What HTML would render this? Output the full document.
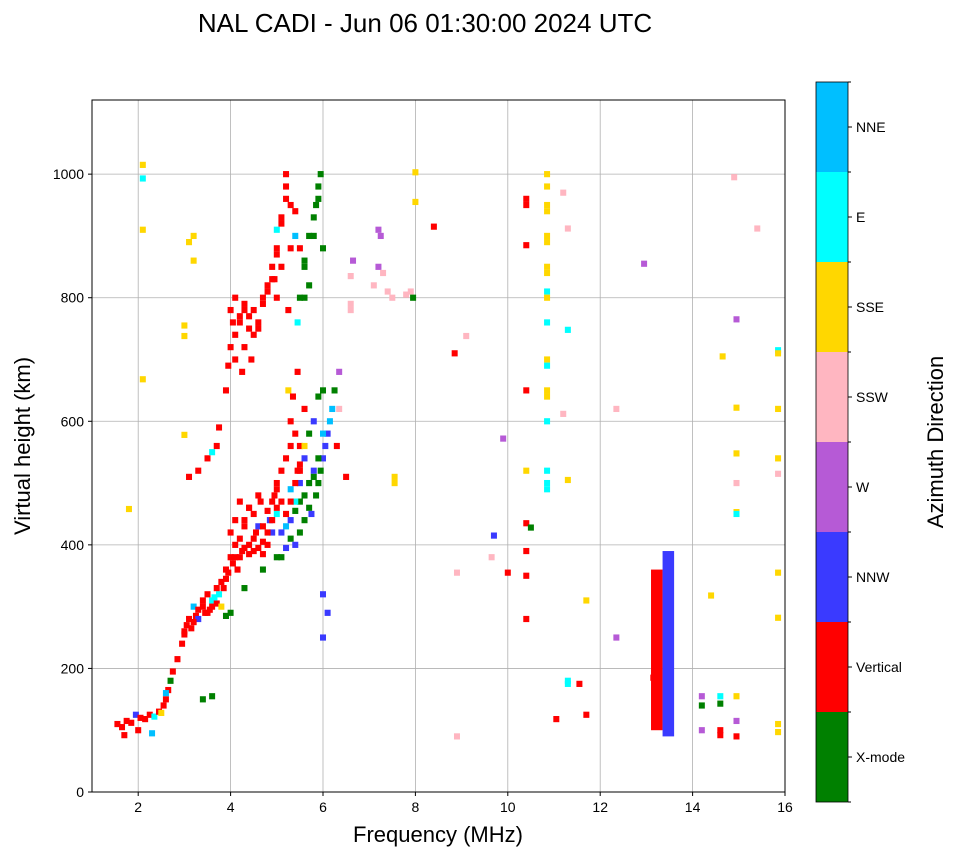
<!DOCTYPE html>
<html><head><meta charset="utf-8"><style>
body{margin:0;background:#fff;width:958px;height:857px;overflow:hidden;font-family:"Liberation Sans",sans-serif}
svg text{font-family:"Liberation Sans",sans-serif}
</style></head><body>
<svg id="chart" width="958" height="857" xmlns="http://www.w3.org/2000/svg">
<text x="425" y="32" font-size="26" text-anchor="middle">NAL CADI - Jun 06 01:30:00 2024 UTC</text>
<g id="grid"></g>
<g id="marks"></g>
<rect x="92" y="100" width="693" height="692" fill="none" stroke="#000" stroke-width="1"/>
<g id="axes"></g>
<text x="438" y="842" font-size="22" text-anchor="middle">Frequency (MHz)</text>
<text transform="translate(30,446) rotate(-90)" font-size="22" text-anchor="middle">Virtual height (km)</text>
<g id="cbar"></g>
<text transform="translate(943,442) rotate(-90)" font-size="22" text-anchor="middle">Azimuth Direction</text>
</svg>
<script>
const xTicks=[2,4,6,8,10,12,14,16];
const yTicks=[0,200,400,600,800,1000];
const dirNames=["X-mode","Vertical","NNW","W","SSW","SSE","E","NNE"];
const dirColors=["#008000","#ff0000","#3a3aff","#b65ad6","#ffb6c1","#ffd700","#00ffff","#00bfff"];
const freqs=[
1.55,1.65,1.75,1.85,1.95,2.05,2.15,2.25,2.35,2.45,2.55,2.6,2.65,2.7,2.75,2.3,2.0,1.7,2.5,2.6,
2.85,2.95,3.0,3.05,3.15,3.25,3.3,3.4,3.45,3.55,3.6,3.7,3.75,3.85,3.9,3.95,4.05,4.1,4.15,4.25,3.2,3.5,3.65,3.8,3.9,4.0,3.4,3.6,
4.2,4.3,4.4,4.5,4.55,4.65,4.7,4.8,4.85,4.95,5.0,5.1,4.4,4.6,4.9,5.0,4.3,4.7,
5.1,5.2,5.3,5.4,5.5,5.6,5.7,5.75,5.85,5.9,5.95,6.0,6.05,6.1,6.15,6.2,6.25,6.35,5.5,5.6,5.8,6.0,6.3,6.35,5.45,5.3,5.25,
5.0,5.1,5.2,5.3,5.4,5.5,5.35,5.45,
3.9,3.95,4.0,4.05,4.1,4.2,4.3,4.4,4.5,4.6,4.7,4.8,4.9,5.0,4.95,5.0,4.1,4.3,4.45,4.25,3.7,3.75,3.3,3.1,3.1,3.5,3.6,
5.2,5.3,5.4,5.5,5.6,5.7,5.8,5.85,5.9,5.95,5.25,5.45,5.6,5.0,5.1,5.2,
6.6,6.6,6.65,7.1,7.2,7.25,7.3,7.4,7.5,7.8,7.9,7.95,7.2,6.6,
10.85,10.85,10.85,10.85,10.85,10.85,10.85,10.85,10.85,10.85,10.85,10.85,10.85,10.85,10.85,10.85,10.85,10.85,10.85,
10.4,10.4,10.4,10.4,10.4,10.4,10.5,10.4,10.4,10.4,10.0,9.7,9.65,9.9,8.85,9.1,8.4,7.55,7.55,8.9,8.9,11.2,11.3,11.3,11.3,11.3,11.55,11.7,11.7,11.05,11.2,11.3,12.35,12.35,12.95,14.4,14.2,14.2,14.2,14.6,14.6,14.6,14.6,14.9,14.95,14.95,14.95,14.95,14.95,14.95,14.95,14.95,14.95,14.65,15.4,15.85,15.85,15.85,15.85,15.85,15.85,15.85,15.85,15.85,2.1,2.1,2.1,2.1,1.8,3.0,3.2,3.2,3.0,3.0,8.0,8.0,6.1,6.0,6.0,6.5,13.15,
3.0,3.1,3.2,3.3,3.4,3.5,3.6,3.7,3.8,3.9,4.0,4.1,4.2,4.3,4.4,4.5,4.6,4.7,4.8,4.9,5.0,
4.0,4.1,4.2,4.3,4.4,4.5,4.6,4.7,4.8,4.9,5.0,
5.1,5.2,5.3,5.4,5.5,5.6,5.7,5.8,5.9,
5.3,5.4,5.5,5.6,5.7,5.8,5.9,6.0,
5.2,5.3,5.4,5.5,5.6,
4.0,4.1,4.2,4.3,4.4,4.5,4.6,4.7,4.8,4.9,5.0,
5.1,5.1,5.2,5.3,5.4,5.5,5.6,5.7,5.8,5.9,6.0];
const heights=[
110,105,115,112,125,120,118,125,122,130,140,150,165,180,195,95,100,92,128,160,
215,240,255,270,265,285,280,300,290,295,310,305,320,330,345,355,370,380,360,390,300,320,315,300,285,290,150,155,
410,440,400,390,420,470,385,400,440,480,450,470,460,430,420,380,330,360,
380,395,410,400,420,440,460,450,480,500,520,540,560,580,600,620,650,680,560,620,520,580,560,620,520,600,650,
500,520,540,560,580,520,640,680,
650,690,720,760,700,770,790,750,740,760,790,820,850,870,830,800,800,780,700,680,560,590,520,510,890,540,550,
1000,950,900,880,850,820,900,950,980,1000,780,760,800,910,930,980,
790,780,860,820,850,900,840,810,800,805,810,800,910,835,
1000,980,950,940,900,890,850,840,810,800,760,700,690,650,640,600,520,500,490,
960,950,885,650,520,435,428,390,350,280,355,415,380,572,710,738,915,510,500,355,90,612,748,505,180,175,175,310,125,118,970,912,620,250,855,318,155,140,100,155,143,100,92,995,765,622,548,500,453,450,155,115,90,705,912,715,710,620,540,515,355,282,110,97,1015,993,910,668,458,578,900,860,755,738,1003,955,290,320,250,510,185,
260,280,275,295,310,290,300,330,340,360,380,400,380,395,385,410,395,405,420,440,460,
420,440,470,430,460,450,480,430,455,470,490,
420,430,440,455,470,480,500,510,540,
490,470,500,540,580,600,640,650,
450,470,500,530,560,
780,740,760,720,770,780,750,800,810,830,880,
850,920,960,880,940,800,860,900,930,960,880];
const dirs=[
1,1,1,1,2,1,1,1,6,1,1,1,1,0,1,7,1,1,5,7,
1,1,1,1,1,1,2,1,1,1,6,1,6,1,1,1,1,1,1,1,7,1,6,5,0,0,0,0,
1,1,1,1,1,1,1,1,2,1,6,1,1,2,2,0,0,0,
0,2,0,2,0,0,0,2,0,0,0,2,2,2,7,7,0,3,1,1,2,7,1,4,1,1,5,
1,1,1,1,1,1,1,1,
1,1,1,1,1,1,1,1,1,1,1,1,1,1,1,1,1,1,1,1,1,1,1,1,5,1,6,
1,1,7,1,0,0,0,0,0,0,1,6,0,6,1,1,
4,4,3,4,3,3,4,4,4,4,4,0,3,4,
5,5,5,5,5,5,5,5,6,5,6,5,6,5,5,6,6,6,6,
1,1,1,1,5,1,0,1,1,1,1,2,4,3,1,4,1,5,5,4,4,4,6,5,6,6,1,5,1,1,4,4,4,3,3,5,3,0,3,6,0,1,1,4,3,5,5,4,5,6,5,3,1,5,4,6,5,5,5,4,5,5,5,5,5,6,5,5,5,5,5,5,5,5,5,5,2,2,2,1,1,
1,1,1,1,1,1,1,1,1,1,1,1,1,1,1,1,1,1,1,1,1,
1,1,1,1,1,1,1,1,1,1,1,
2,7,2,0,0,0,0,0,0,
7,6,2,2,0,2,0,0,
1,1,1,1,5,
1,1,1,1,1,1,1,1,1,1,1,
1,1,1,1,1,0,0,0,0,0,0];
const spanF0=[13.1,13.35];
const spanF1=[13.35,13.6];
const spanH0=[100,90];
const spanH1=[360,390];
const spanDir=[1,2];

const NS="http://www.w3.org/2000/svg";
const X0=92,X1=785,Y0=792,Y1=100,FMIN=1,FMAX=16,HMIN=0,HMAX=1120;
function xs(f){return X0+(f-FMIN)/(FMAX-FMIN)*(X1-X0);}
function ys(h){return Y0-(h-HMIN)/(HMAX-HMIN)*(Y0-Y1);}
function mk(tag,attrs,parent){const e=document.createElementNS(NS,tag);for(const k in attrs)e.setAttribute(k,attrs[k]);parent.appendChild(e);return e;}
const grid=document.getElementById('grid'),axes=document.getElementById('axes'),marks=document.getElementById('marks'),cbar=document.getElementById('cbar');
xTicks.forEach(t=>{const x=xs(t);
 const g=mk('line',{x1:x,x2:x,y1:Y1,y2:Y0,stroke:'#b0b0b0','stroke-width':0.8},grid);
 
 
 mk('line',{x1:x,x2:x,y1:Y0,y2:Y0+4,stroke:'#000'},axes);
 const tx=mk('text',{x:x,y:Y0+20,'font-size':14,'text-anchor':'middle'},axes);tx.textContent=t;
 
 
});
yTicks.forEach(t=>{const y=ys(t);
 const g=mk('line',{x1:X0,x2:X1,y1:y,y2:y,stroke:'#b0b0b0','stroke-width':0.8},grid);
 
 
 mk('line',{x1:X0-4,x2:X0,y1:y,y2:y,stroke:'#000'},axes);
 const tx=mk('text',{x:X0-8,y:y+5,'font-size':14,'text-anchor':'end'},axes);tx.textContent=t;
 
 
});
const W=0.13,H=10;
const n=Math.min(freqs.length,heights.length,dirs.length);
for(let i=0;i<n;i++){
 const x=xs(freqs[i]-W/2),w=xs(freqs[i]+W/2)-x,y=ys(heights[i]+H/2),h=ys(heights[i]-H/2)-y;
 const r=mk('rect',{x:x,y:y,width:w,height:h,fill:dirColors[dirs[i]]},marks);
 
 
}
for(let i=0;i<spanF0.length;i++){
 const x=xs(spanF0[i]),y=ys(spanH1[i]);
 const r=mk('rect',{x:x,y:y,width:xs(spanF1[i])-x,height:ys(spanH0[i])-y,fill:dirColors[spanDir[i]]},marks);
 
 
}
const CX=816,CW=32,CT=82,CB=802,seg=(CB-CT)/dirNames.length;
for(let i=0;i<dirNames.length;i++){
 const y=CB-(i+1)*seg;
 const r=mk('rect',{x:CX,y:y,width:CW,height:seg,fill:dirColors[i]},cbar);
 
 
 mk('line',{x1:CX+CW,x2:CX+CW+4,y1:y+seg/2,y2:y+seg/2,stroke:'#000'},cbar);
 const t=mk('text',{x:CX+CW+8,y:y+seg/2+5,'font-size':14},cbar);t.textContent=dirNames[i];
 
 
}
for(let i=0;i<=dirNames.length;i++){const y=CT+i*seg;mk('line',{x1:CX+CW,x2:CX+CW+3,y1:y,y2:y,stroke:'#000'},cbar);}
mk('rect',{x:CX,y:CT,width:CW,height:CB-CT,fill:'none',stroke:'#000','stroke-width':0.8},cbar);
</script>
</body></html>
